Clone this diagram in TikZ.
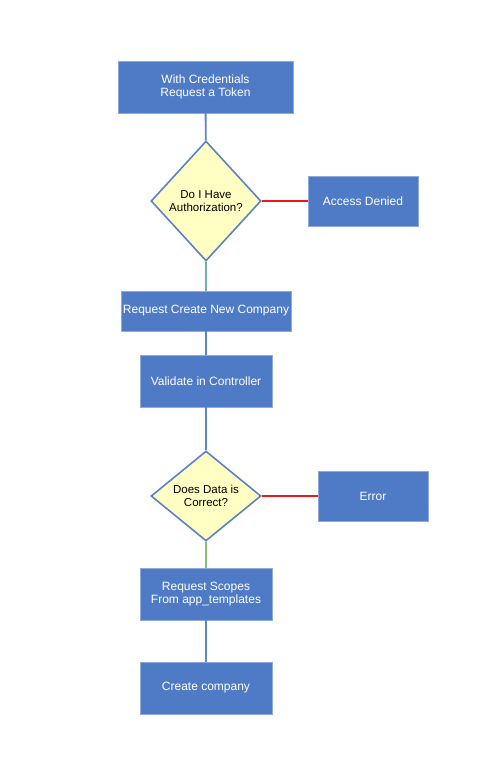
\documentclass[tikz,border=0pt]{standalone}
\usepackage{fontspec}
\setmainfont{Liberation Sans}
\usetikzlibrary{shapes.geometric}
\definecolor{boxblue}{HTML}{4F7BC6}
\definecolor{boxline}{HTML}{8EAADB}
\definecolor{diafill}{HTML}{FFFFC3}
\definecolor{dialine}{HTML}{5B82C8}
\definecolor{linkblue}{HTML}{5B85C8}
\definecolor{linkteal}{HTML}{6DB2A2}
\definecolor{linkgreen}{HTML}{84C070}
\definecolor{linkred}{HTML}{F01818}
\tikzset{
  stepbox/.style={shape=rectangle,draw=boxline,line width=0.8pt,fill=boxblue,text=white,
    align=center,font=\fontsize{12}{13.5}\selectfont,inner sep=0pt},
  choice/.style={shape=diamond,draw=dialine,line width=1.6pt,fill=diafill,text=black,
    align=center,font=\fontsize{11.5}{13}\selectfont,inner sep=0pt,minimum width=110pt},
  link/.style={line width=1.8pt}
}
\begin{document}
\begin{tikzpicture}[x=1pt,y=-1pt]
        \useasboundingbox (0,0) rectangle (499,772);
        \node[stepbox,minimum width=175pt,minimum height=52pt] (token) at (205.5,87) {With Credentials\\Request a Token};
        \node[choice,minimum height=120pt] (auth) at (206,201) {Do I Have\\Authorization?};
        \node[stepbox,minimum width=110pt,minimum height=50pt] (denied) at (363,201) {Access Denied};
        \node[stepbox,minimum width=170pt,minimum height=40pt] (create) at (206,311) {Request Create New Company};
        \node[stepbox,minimum width=132pt,minimum height=52pt] (validate) at (206,381) {Validate in Controller};
        \node[choice,minimum height=90pt] (correct) at (206,496) {Does Data is\\Correct?};
        \node[stepbox,minimum width=110pt,minimum height=50pt] (error) at (373,496) {Error};
        \node[stepbox,minimum width=132pt,minimum height=52pt] (scopes) at (206,594) {Request Scopes\\From app\_templates};
        \node[stepbox,minimum width=132pt,minimum height=52pt] (company) at (206,688) {Create company};
        \path [-,link,draw=linkblue](token) edge node[left]{} (auth);
        \path [-,link,draw=linkred](auth) edge node[left]{} (denied);
        \path [-,link,draw=linkteal](auth) edge node[left]{} (create);
        \path [-,link,draw=linkblue](create) edge node[left]{} (validate);
        \path [-,link,draw=linkblue](validate) edge node[left]{} (correct);
        \path [-,link,draw=linkred](correct) edge node[left]{} (error);
        \path [-,link,draw=linkgreen](correct) edge node[left]{} (scopes);
        \path [-,link,draw=linkblue](scopes) edge node[left]{} (company);
    \end{tikzpicture}
\end{document}
